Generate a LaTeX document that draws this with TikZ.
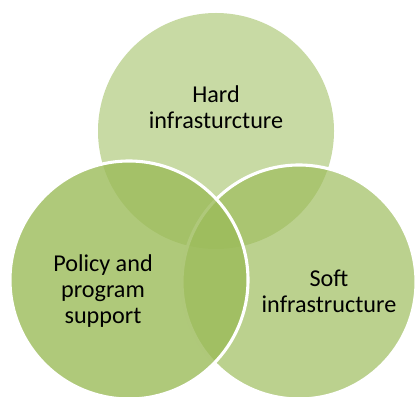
\documentclass[tikz,border=0pt]{standalone}
\usepackage{fontspec}
\setmainfont{Carlito}
\usepackage{tikz}
\definecolor{venngreen}{RGB}{155,187,89}

\begin{document}
\begin{tikzpicture}[
    ring/.style={fill=venngreen, draw=white, line width=2.2pt},
    label/.style={align=center, font=\fontsize{17.2}{18.6}\selectfont, text=black}
]
    \useasboundingbox (0,0) rectangle (10.375,9.9);
    \clip (0,0) rectangle (10.375,9.9);

    % three overlapping circles
    \fill[venngreen, fill opacity=0.55] (5.40,6.625) circle (2.95);
    \path[ring, fill opacity=0.68] (7.475,2.85) circle (2.925);
    \path[ring, fill opacity=0.80] (3.225,2.90) circle (2.975);

    \node[label] (hard) at (5.40,7.225) {Hard\\infrasturcture};
    \node[label] (policy) at (2.575,2.625) {Policy and\\program\\support};
    \node[label] (soft) at (8.225,2.625) {Soft\\infrastructure};
\end{tikzpicture}
\end{document}
